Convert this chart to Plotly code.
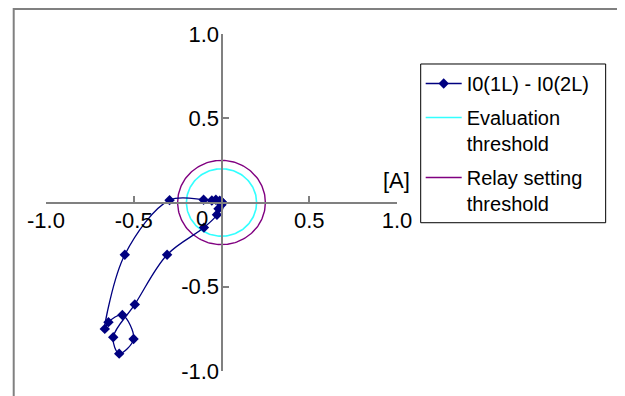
import numpy as np
import plotly.graph_objects as go

# ---- data ----
locus_x = [0.005, 0.0, -0.017, -0.026, -0.100, -0.310, -0.494, -0.617, -0.583,
           -0.501, -0.565, -0.644, -0.665, -0.551, -0.296, -0.102, -0.055,
           -0.032, -0.010, 0.0]
locus_y = [0.0, -0.014, -0.037, -0.073, -0.149, -0.310, -0.605, -0.800, -0.897,
           -0.810, -0.668, -0.710, -0.750, -0.310, 0.014, 0.016, 0.012,
           0.016, 0.010, 0.005]
eval_threshold = 0.20
relay_threshold = 0.25

x_tickvals = [-1.0, -0.5, 0.0, 0.5, 1.0]
x_ticktext = ["-1.0", "-0.5", "", "0.5", "1.0"]
y_tickvals = [-1.0, -0.5, 0.5, 1.0]
y_ticktext = ["-1.0", "-0.5", "0.5", "1.0"]

series_names = ["I0(1L) - I0(2L)", "Evaluation<br>threshold", "Relay setting<br>threshold"]

FONT = "Liberation Sans, Arial, sans-serif"
theta = np.linspace(0, 2 * np.pi, 181)

fig = go.Figure()
fig.add_trace(go.Scatter(
    x=eval_threshold * np.cos(theta), y=eval_threshold * np.sin(theta),
    mode="lines", line=dict(color="#33FFFF", width=1.6),
    name=series_names[1], legendrank=2, legendgroup="g2", hoverinfo="skip"))
fig.add_trace(go.Scatter(
    x=relay_threshold * np.cos(theta), y=relay_threshold * np.sin(theta),
    mode="lines", line=dict(color="#800080", width=1.4),
    name=series_names[2], legendrank=3, legendgroup="g3", hoverinfo="skip"))
fig.add_trace(go.Scatter(
    x=locus_x, y=locus_y, mode="lines+markers",
    line=dict(color="#000080", width=1.3, shape="spline", smoothing=1),
    marker=dict(symbol="diamond", size=8, color="#000080"),
    name=series_names[0], legendrank=1, legendgroup="g1"))

axis_common = dict(
    showgrid=False, zeroline=False, showline=True,
    linecolor="#808080", linewidth=2,
    ticks="inside", ticklen=6, tickcolor="#808080", tickwidth=2,
    tickfont=dict(family=FONT, size=22, color="black"),
    anchor="free", position=0.5, fixedrange=True,
)

fig.update_layout(
    width=625, height=396,
    margin=dict(l=38, r=236, t=26, b=33),
    paper_bgcolor="white", plot_bgcolor="white",
    xaxis=dict(range=[-1, 1], tickvals=x_tickvals, ticktext=x_ticktext,
               side="bottom", ticklabelstandoff=-2, **axis_common),
    yaxis=dict(range=[-1, 1], tickvals=y_tickvals, ticktext=y_ticktext,
               side="left", ticklabelstandoff=-3, **axis_common),
    showlegend=True,
    legend=dict(x=1.0675, y=0.911, xanchor="left", yanchor="top",
                bgcolor="rgba(0,0,0,0)", borderwidth=0,
                font=dict(family=FONT, size=20, color="black"),
                itemwidth=36, tracegroupgap=5, traceorder="grouped",
                valign="top"),
    annotations=[
        dict(x=-0.11, y=-0.094, xref="x", yref="y", text="0", showarrow=False,
             font=dict(family=FONT, size=22, color="black")),
        dict(x=0.997, y=0.129, xref="x", yref="y", text="[A]", showarrow=False,
             font=dict(family=FONT, size=22, color="black")),
    ],
    shapes=[
        dict(type="rect", xref="paper", yref="paper",
             x0=-0.092, y0=-0.2, x1=1.8, y1=1.074,
             line=dict(color="#808080", width=2), layer="below"),
        dict(type="rect", xref="paper", yref="paper",
             x0=1.0675, y0=0.440, x1=1.5945, y1=0.911,
             line=dict(color="black", width=1), layer="above"),
    ],
)

fig.write_html("out.html")
